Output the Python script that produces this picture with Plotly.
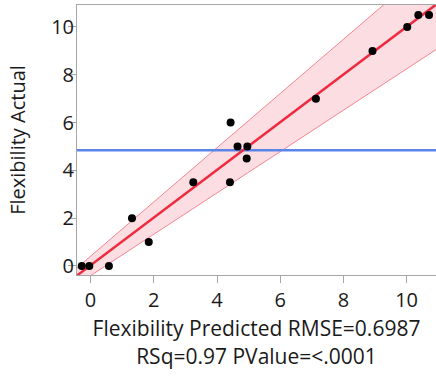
import numpy as np
import plotly.graph_objects as go

# Actual vs. predicted flexibility
predicted = [-0.28, -0.04, 0.58, 1.31, 1.84, 3.25, 4.41, 4.94, 4.43, 4.65,
             4.96, 7.13, 8.92, 10.02, 10.37, 10.71]
actual = [0, 0, 0, 2, 1, 3.5, 3.5, 4.5, 6, 5, 5, 7, 9, 10, 10.5, 10.5]

# Confidence region edges at the ends of the predicted axis
band_x = [-0.43, 10.93]
band_upper = [-0.08, 12.81]
band_lower = [-0.78, 9.05]

x_range = [-0.43, 10.93]
y_range = [-0.38, 10.92]
tick_vals = [0, 2, 4, 6, 8, 10]

rmse_text = "0.6987"
rsq_text = "0.97"
pvalue_text = "<.0001"

slope, intercept = np.polyfit(predicted, actual, 1)
fit_x = np.array(x_range)
fit_y = slope * fit_x + intercept
mean_actual = float(np.mean(actual))

FONT = "Open Sans"
AXIS_GRAY = "#a6a6a6"

fig = go.Figure()

fig.add_trace(go.Scatter(
    x=band_x, y=band_lower, mode="lines",
    line=dict(color="rgba(240,110,125,0.8)", width=1),
    hoverinfo="skip", showlegend=False))
fig.add_trace(go.Scatter(
    x=band_x, y=band_upper, mode="lines", fill="tonexty",
    fillcolor="rgba(245,120,135,0.25)",
    line=dict(color="rgba(240,110,125,0.8)", width=1),
    hoverinfo="skip", showlegend=False))

fig.add_trace(go.Scatter(
    x=x_range, y=[mean_actual, mean_actual], mode="lines",
    line=dict(color="#5b85e8", width=2.5),
    hoverinfo="skip", showlegend=False))

fig.add_trace(go.Scatter(
    x=fit_x, y=fit_y, mode="lines",
    line=dict(color="#ee2a3f", width=2.5),
    hoverinfo="skip", showlegend=False))

fig.add_trace(go.Scatter(
    x=predicted, y=actual, mode="markers",
    marker=dict(color="black", size=8),
    showlegend=False))

fig.update_layout(
    width=436, height=378,
    margin=dict(l=77, r=0, t=5, b=103),
    paper_bgcolor="white", plot_bgcolor="white",
    font=dict(family=FONT, size=20, color="#1a1a1a"),
)

fig.update_xaxes(
    range=x_range, tickvals=tick_vals, showgrid=False, zeroline=False,
    showline=True, linecolor=AXIS_GRAY, linewidth=1, mirror=True,
    ticks="outside", ticklen=7, tickcolor=AXIS_GRAY, tickwidth=1,
    tickfont=dict(size=20),
    title=dict(
        text=f"Flexibility Predicted RMSE={rmse_text}<br>RSq={rsq_text} PValue={pvalue_text}",
        font=dict(size=21), standoff=9),
)
fig.update_yaxes(
    range=y_range, tickvals=tick_vals, showgrid=False, zeroline=False,
    showline=True, linecolor=AXIS_GRAY, linewidth=1,
    ticks="outside", ticklen=8, tickcolor=AXIS_GRAY, tickwidth=1,
    tickfont=dict(size=20), ticklabelstandoff=-10,
    title=dict(text="Flexibility Actual", font=dict(size=20), standoff=20),
)

fig.write_html("out.html")
